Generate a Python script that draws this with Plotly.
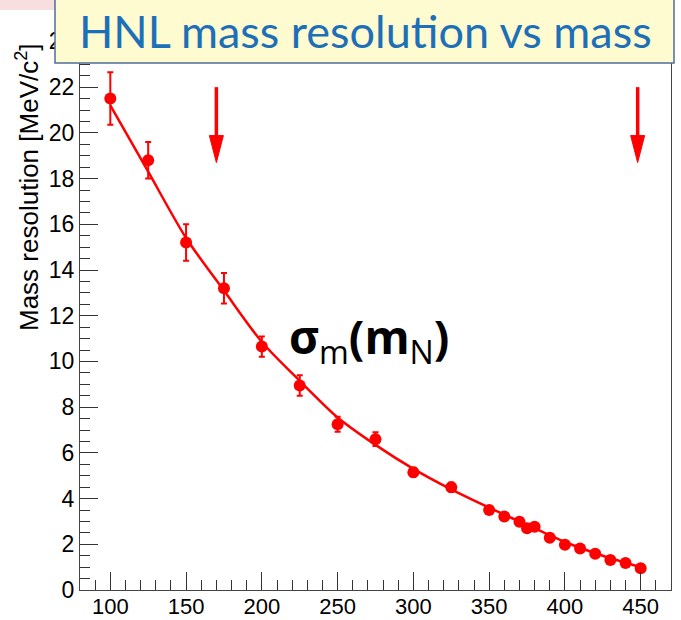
import plotly.graph_objects as go

# ---- data ----
mass = [100, 125, 150, 175, 200, 225, 250, 275, 300, 325, 350, 360, 370, 375,
        380, 390, 400, 410, 420, 430, 440, 450]
resolution = [21.5, 18.8, 15.2, 13.2, 10.65, 8.95, 7.25, 6.6, 5.15, 4.5, 3.5,
              3.22, 2.99, 2.7, 2.77, 2.29, 1.98, 1.82, 1.59, 1.31, 1.18, 0.95]
res_err = [1.15, 0.8, 0.8, 0.67, 0.44, 0.45, 0.33, 0.3, 0.2, 0.2, 0.15, 0.15,
           0.15, 0.15, 0.15, 0.15, 0.15, 0.12, 0.12, 0.12, 0.12, 0.12]

fit_mass = [100, 125, 150, 175, 200, 225, 250, 275, 300, 325, 350, 375, 400, 425, 450]
fit_res = [21.2, 18.3, 15.4, 13.1, 10.85, 9.15, 7.55, 6.35, 5.3, 4.4, 3.6, 2.85,
           2.1, 1.5, 1.0]

arrow_mass = [170, 448]
arrow_top = 22.0
arrow_tip = 18.7

title_text = "HNL mass resolution vs mass"
y_title = "Mass resolution [MeV/c<sup>2</sup>]"
x_ticks = [100, 150, 200, 250, 300, 350, 400, 450]
y_ticks = [0, 2, 4, 6, 8, 10, 12, 14, 16, 18, 20, 22, 24]

X_RANGE = [80, 470]
Y_RANGE = [0, 24.5]
RED = "#ff0000"

fig = go.Figure()

# fit curve
fig.add_trace(go.Scatter(
    x=fit_mass, y=fit_res, mode="lines",
    line=dict(color=RED, width=2.5, shape="spline", smoothing=0.8),
    hoverinfo="skip", showlegend=False))

# data points
fig.add_trace(go.Scatter(
    x=mass, y=resolution, mode="markers",
    marker=dict(color=RED, size=12, line=dict(width=0)),
    error_y=dict(type="data", array=res_err, color=RED, thickness=2, width=3),
    showlegend=False))

# arrows (shaft + head), built from the arrow data
px_per_x = 591 / (X_RANGE[1] - X_RANGE[0])
px_per_y = 560 / (Y_RANGE[1] - Y_RANGE[0])
head_half_w = 7 / px_per_x
head_len = 27 / px_per_y
for xa in arrow_mass:
    base = arrow_tip + head_len
    fig.add_shape(type="line", xref="x", yref="y", x0=xa, x1=xa,
                  y0=arrow_top, y1=base, line=dict(color=RED, width=3.5))
    fig.add_shape(type="path", xref="x", yref="y",
                  path=f"M {xa - head_half_w},{base} L {xa + head_half_w},{base} "
                       f"L {xa},{arrow_tip} Z",
                  fillcolor=RED, line=dict(color=RED, width=1))

# faint pink slide decoration at top-left
fig.add_shape(type="rect", xref="paper", yref="paper", layer="above",
              x0=-80 / 591, x1=-25 / 591, y0=1 + 20 / 560, y1=1 + 30 / 560,
              fillcolor="#f8dede", line=dict(width=0))

# title box
fig.add_shape(type="rect", xref="paper", yref="paper", layer="above",
              x0=(55 - 80) / 591, x1=(674 - 80) / 591,
              y0=1 - (63 - 30) / 560, y1=1 + 40 / 560,
              fillcolor="#fdfbcf", line=dict(color="#4f6d9a", width=1.5))
fig.add_annotation(text=title_text, xref="paper", yref="paper",
                   x=(365 - 80) / 591, y=1 - (31 - 30) / 560,
                   xanchor="center", yanchor="middle", showarrow=False,
                   font=dict(family="Lato", size=45, color="#1d6fb8"))

# y axis title
fig.add_annotation(text=y_title, xref="paper", yref="y",
                   x=(27 - 80) / 591, y=(590 - 187) / px_per_y,
                   xanchor="center", yanchor="middle", textangle=-90,
                   showarrow=False,
                   font=dict(family="Liberation Sans", size=26, color="#000"))

# sigma label
fig.add_annotation(text="<b>σ</b><sub>m</sub><b>(m</b><sub>N</sub><b>)</b>",
                   xref="x", yref="y", x=270.5, y=11.0,
                   xanchor="center", yanchor="middle", showarrow=False,
                   font=dict(family="Open Sans", size=46, color="#000"))

axis_common = dict(showline=True, linecolor="#444", linewidth=1.3, mirror=True,
                   ticks="inside", ticklen=18, tickwidth=1.2, tickcolor="#333",
                   showgrid=False, zeroline=False, automargin=False)

fig.update_xaxes(range=X_RANGE, tickvals=x_ticks, ticklabelstandoff=-4,
                 tickfont=dict(family="Liberation Sans", size=22, color="#000"),
                 minor=dict(dtick=10, tick0=0, ticks="inside", ticklen=10,
                            tickwidth=1.2, tickcolor="#333", showgrid=False),
                 **axis_common)
fig.update_yaxes(range=Y_RANGE, tickvals=y_ticks,
                 tickfont=dict(family="Liberation Sans", size=23, color="#000"),
                 minor=dict(dtick=0.5, tick0=0, ticks="inside", ticklen=10,
                            tickwidth=1.2, tickcolor="#333", showgrid=False),
                 **axis_common)

fig.update_layout(width=681, height=620,
                  margin=dict(l=80, r=10, t=30, b=30),
                  paper_bgcolor="white", plot_bgcolor="white",
                  showlegend=False)

fig.write_html("out.html")
